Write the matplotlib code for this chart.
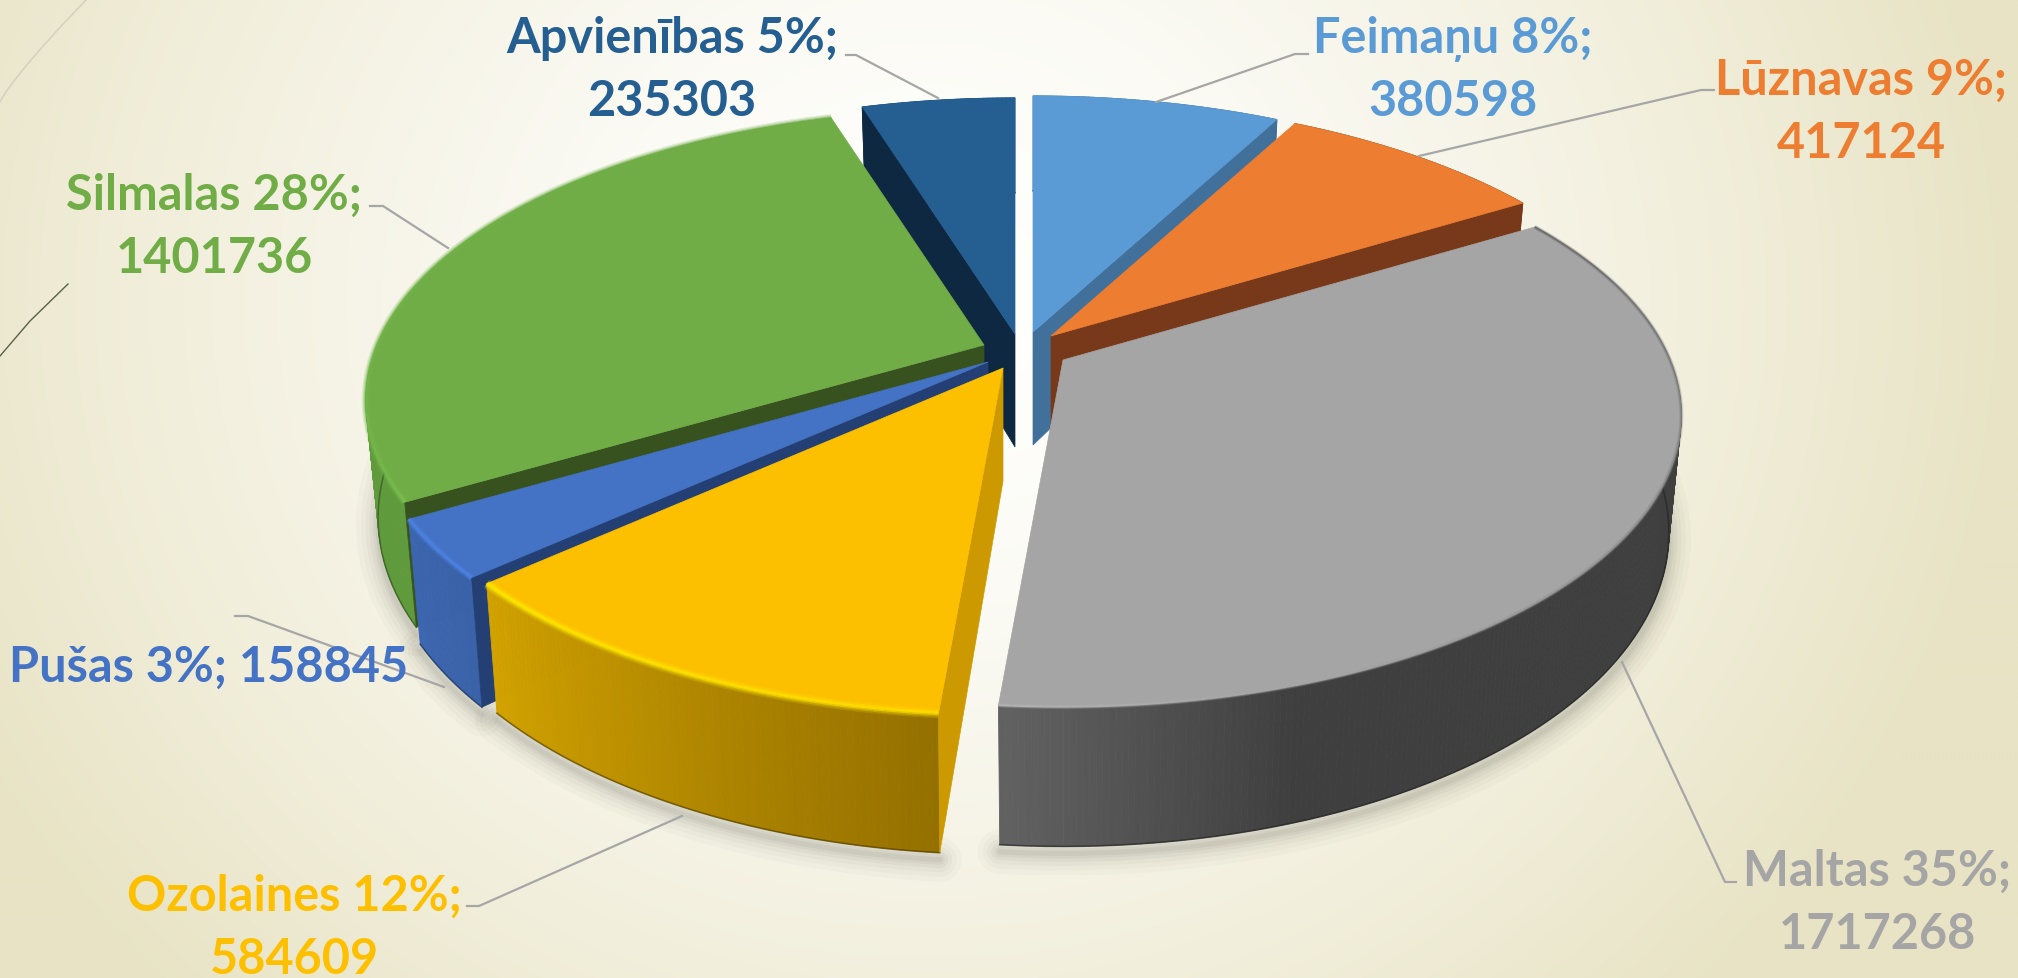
import numpy as np
import matplotlib
matplotlib.use("Agg")
import matplotlib.pyplot as plt
from matplotlib.collections import LineCollection, PolyCollection
from matplotlib.colors import to_rgb
from matplotlib.patches import Polygon

names = ["Feimaņu", "Lūznavas", "Maltas", "Ozolaines", "Pušas", "Silmalas", "Apvienības"]
values = [380598, 417124, 1717268, 584609, 158845, 1401736, 235303]
percents = [8, 9, 35, 12, 3, 28, 5]

top_colors = ["#5b9bd5", "#ed7d31", "#a5a5a5", "#fdc000", "#4472c4", "#70ad47", "#255e91"]
cut_colors = ["#41709b", "#78391a", "#6f6f6f", "#cc9a00", "#233f73", "#37521f", "#0e2841"]
wall_from = ["#41709b", "#78391a", "#626262", "#d2a200", "#3c66b0", "#64993f", "#1b4a75"]
wall_to = ["#41709b", "#78391a", "#3f3f3f", "#947000", "#3a62a8", "#5f9a3c", "#1b4a75"]
rim_from = [None, None, "#5e5e5e", "#ffe000", "#4f86e8", "#7cc84f", None]
rim_to = [None, None, "#b8b8b8", "#ffee00", "#4f86e8", "#70ad47", None]
rim_width = [0, 0, 0.55, 1.25, 1, 1, 0]
rim_fade = [1, 1, 1, 1, 1, 0.3, 1]
shadow_caps = ["butt", "round", "round", "round", "round", "round", "butt"]

# paint order, back to front
order = [6, 0, 1, 5, 4, 2, 3]

# where the tip of each slice ends up after exploding, relative to the pie centre
CX, CY = 1017, 345
tip_dx = [16, 34, 46, -14, -29, -33, -2]
tip_dy = [-12, -8, 16, 24, 18, 1, -10]

# pie shape on screen
RX, RY, PERSP, DEPTH, FOOT = 607, 281, 0.19, 113, 0.98

label_xy = [(1453, 70), (1861, 112), (1877, 903), (294, 928), (209, 667), (214, 227), (672, 70)]
leaders = [
    [(1308, 55), (1295, 55), (1156, 103)],
    [(1714, 91), (1701, 91), (1419, 157)],
    [(1736, 883), (1725, 883), (1622, 663)],
    [(467, 907), (479, 907), (682, 817)],
    [(235, 617), (248, 617), (444, 688)],
    [(370, 207), (383, 207), (448, 249)],
    [(846, 56), (856, 56), (938, 99)],
]


def rim(angles, i, lower=False):
    # angles are degrees clockwise from 12 o'clock on the disc
    t = np.radians(angles)
    u, v = np.sin(t), np.cos(t)
    s = 1 / (1 + PERSP * v)
    rx = RX * FOOT if lower else RX
    x = CX + tip_dx[i] + rx * u * s
    y = CY + tip_dy[i] - RY * v * s
    if lower:
        y = y + DEPTH * s
    return np.column_stack([x, y])


def mix(c1, c2, n, power=1):
    a, b = np.array(to_rgb(c1)), np.array(to_rgb(c2))
    return [tuple(a + (b - a) * k ** power) for k in np.linspace(0, 1, n)]


def background(ax):
    yy, xx = np.mgrid[0:979:2, 0:2018:2]
    d = np.sqrt(((xx - 930) / 1090) ** 2 + ((yy - 300) / 1000) ** 2)
    d = np.clip(d, 0, 1)[..., None] ** 1.5
    rgb = np.array([1, 1, 0.995]) * (1 - d) + np.array(to_rgb("#e8e3c4")) * d
    ax.imshow(rgb, extent=(0, 2018, 979, 0), aspect="auto", zorder=0)
    t = np.linspace(0, 1, 30)
    ax.plot(87 * (1 - t) ** 1.15, 103 * t, color="#d5d3bf", lw=1.2, zorder=1)
    ax.plot([68, 30, 0], [285, 322, 357], color="#59604a", lw=1.0, zorder=1)


def slice_shadow(ax, a1, a2, i):
    pts = rim(np.linspace(a1, a2, 80), i, lower=True) + [0, 7]
    for lw, alpha in zip([44, 34, 25, 17, 10, 5], [0.03, 0.03, 0.04, 0.05, 0.06, 0.07]):
        ax.plot(pts[:, 0], pts[:, 1], color="#55554c", lw=lw * 0.72, alpha=alpha,
                solid_capstyle=shadow_caps[i], zorder=2)


def cut_visible(tip, tip_b, edge, inside):
    # the cut face shows when its lower edge falls on the far side from the slice
    def side(p):
        return (edge[0] - tip[0]) * (p[1] - tip[1]) - (edge[1] - tip[1]) * (p[0] - tip[0])
    return side(tip_b) * side(inside) < 0


def draw_slice(ax, a1, a2, i, z):
    tip_t = np.array([CX + tip_dx[i], CY + tip_dy[i]], dtype=float)
    tip_b = tip_t + [0, DEPTH]

    # curved outer wall, split up so it can carry a gradient
    n = max(int(a2 - a1) * 2, 12)
    ang = np.linspace(a1, a2, n + 1)
    up, lo = rim(ang, i), rim(ang, i, lower=True)
    quads = [[up[k], up[k + 1], lo[k + 1], lo[k]] for k in range(n)]
    cols = mix(wall_to[i], wall_from[i], n)
    if i == 2:
        # dark part of the grey wall stays flat until the front
        x_mid = up[:-1, 0]
        w = np.clip((1300 - x_mid) / 300, 0, 1)[:, None]
        cols = [tuple(c) for c in np.array(to_rgb(wall_to[i])) * (1 - w) + np.array(to_rgb(wall_from[i])) * w]
    ax.add_collection(PolyCollection(quads, facecolors=cols, edgecolors=cols, linewidths=0.6, zorder=z))
    ax.plot(lo[:, 0], lo[:, 1], color=mix(wall_to[i], "#000000", 3)[1], lw=1.2, alpha=0.6, zorder=z)

    # cut faces, only the ones that face the viewer
    inside = rim(np.array([(a1 + a2) / 2]), i)[0]
    for a in (a1, a2):
        t = rim(np.array([a]), i)[0]
        b = rim(np.array([a]), i, lower=True)[0]
        if cut_visible(tip_t, tip_b, t, inside):
            ax.add_patch(Polygon([tip_t, t, b, tip_b], fc=cut_colors[i], ec=cut_colors[i], lw=0.5, zorder=z))

    # top face
    ax.add_patch(Polygon(np.vstack([tip_t, up]), fc=top_colors[i], ec=top_colors[i], lw=0.5, zorder=z))

    # bevel along the rim
    if rim_from[i]:
        segs = [[up[k], up[k + 1]] for k in range(n)]
        rc = mix(rim_from[i], rim_to[i], n, rim_fade[i])
        for lw, alpha in [(8, 0.18), (5.5, 0.3), (3, 0.6)]:
            ax.add_collection(LineCollection(segs, colors=rc, linewidths=lw * 0.72 * rim_width[i], alpha=alpha,
                                             capstyle="butt", zorder=z))


fig = plt.figure(figsize=(20.18, 9.79), dpi=100)
ax = fig.add_axes([0, 0, 1, 1])
background(ax)

total = sum(values)
edges = np.concatenate([[0], np.cumsum(values) / total * 360])

for i in order:
    slice_shadow(ax, edges[i], edges[i + 1], i)
for z, i in enumerate(order):
    draw_slice(ax, edges[i], edges[i + 1], i, 3 + z)

for i, name in enumerate(names):
    xs, ys = zip(*leaders[i])
    ax.plot(xs, ys, color="#a6a6a6", lw=1.6, zorder=12)
    sep = " " if name == "Pušas" else "\n"
    ax.text(label_xy[i][0], label_xy[i][1], f"{name} {percents[i]}%;{sep}{values[i]}",
            color=top_colors[i], family="Lato", weight="bold", fontsize=35,
            ha="center", va="center", linespacing=1.47, zorder=13)

ax.set_xlim(0, 2018)
ax.set_ylim(979, 0)
ax.axis("off")
fig.savefig("out.png", dpi=100)
